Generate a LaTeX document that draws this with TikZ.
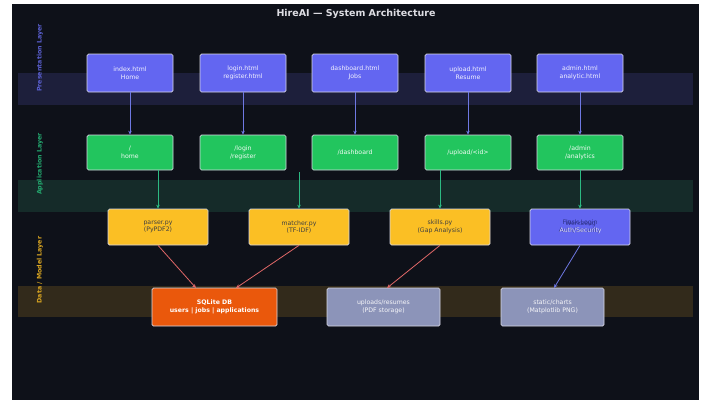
\documentclass[tikz,border=0pt]{standalone}
\usepackage{fontspec}
\setmainfont{DejaVu Sans}
\usetikzlibrary{arrows.meta}
\definecolor{bgdark}{HTML}{0E1119}
\definecolor{bandP}{HTML}{1D1F3B}
\definecolor{bandA}{HTML}{152B29}
\definecolor{bandD}{HTML}{322A1B}
\definecolor{cPurple}{HTML}{6366F1}
\definecolor{cGreen}{HTML}{22C55E}
\definecolor{cYellow}{HTML}{FBBF24}
\definecolor{cOrange}{HTML}{EA580C}
\definecolor{cSlate}{HTML}{8C94B9}
\definecolor{edgeLight}{HTML}{D8D8E4}
\definecolor{arP}{HTML}{6E78E2}
\definecolor{arG}{HTML}{2CB982}
\definecolor{arR}{HTML}{E06868}
\definecolor{lblP}{HTML}{5A5FD0}
\definecolor{lblA}{HTML}{23A86E}
\definecolor{lblD}{HTML}{D9A521}
\definecolor{titleC}{HTML}{DDDDE3}
\definecolor{navyTxt}{HTML}{30348C}
\tikzset{
  x=1pt, y=-1pt,
  box/.style={draw=edgeLight, line width=0.7pt, rounded corners=1.5pt, align=center,
    font=\fontsize{6.2}{7.6}\selectfont, inner sep=0pt},
  pres/.style={box, fill=cPurple, text=white!92!cPurple, minimum width=86pt, minimum height=38pt},
  app/.style={box, fill=cGreen, text=white!94!cGreen, minimum width=86pt, minimum height=35pt},
  model/.style={box, fill=cYellow, text=black!75, minimum width=100pt, minimum height=36pt},
  store/.style={box, fill=cSlate, text=white!92!cSlate, minimum width=113pt, minimum height=38pt},
  layerlbl/.style={rotate=90, font=\fontsize{6.3}{7}\selectfont\bfseries},
  flowP/.style={draw=arP, line width=0.8pt, -{Stealth[length=4pt,width=3.5pt]}},
  flowG/.style={draw=arG, line width=0.8pt, -{Stealth[length=4pt,width=3.5pt]}},
  flowR/.style={draw=arR, line width=0.8pt, -{Stealth[length=4pt,width=3.5pt]}},
}
\begin{document}
\begin{tikzpicture}
\useasboundingbox (0,0) rectangle (702,400);
\fill[white] (0,0) rectangle (702,400);
\fill[bgdark] (12,4) rectangle (699,400);
% layer bands
\fill[bandP] (18,73) rectangle (693,105);
\fill[bandA] (18,180) rectangle (693,212);
\fill[bandD] (18,286) rectangle (693,317);
% title and layer labels
\node[font=\fontsize{9.5}{11}\selectfont\bfseries, text=titleC] (title) at (356,14) {HireAI — System Architecture};
\node[layerlbl, text=lblP] (lp) at (40,58) {Presentation Layer};
\node[layerlbl, text=lblA] (la) at (40,164) {Application Layer};
\node[layerlbl, text=lblD] (ld) at (40,270) {Data / Model Layer};
% presentation row
\node[pres] (p1) at (130,73) {index.html\\Home};
\node[pres] (p2) at (243,73) {login.html\\register.html};
\node[pres] (p3) at (355,73) {dashboard.html\\Jobs};
\node[pres] (p4) at (468,73) {upload.html\\Resume};
\node[pres] (p5) at (580,73) {admin.html\\analytic.html};
% application row
\node[app] (a1) at (130,152.5) {/\\home};
\node[app] (a2) at (243,152.5) {/login\\/register};
\node[app] (a3) at (355,152.5) {/dashboard};
\node[app] (a4) at (468,152.5) {/upload/<id>};
\node[app] (a5) at (580,152.5) {/admin\\/analytics};
% model row
\node[model] (m1) at (158,227) {parser.py\\(PyPDF2)};
\node[model] (m2) at (299,227) {matcher.py\\(TF-IDF)};
\node[model] (m3) at (440,227) {skills.py\\(Gap Analysis)};
% auth box: two labels printed over each other
\node[model, fill=cPurple, text=navyTxt] (m4) at (580,227) {Flask-Login\\Auth/Security};
\node[font=\fontsize{6.2}{7.6}\selectfont, align=center, inner sep=0pt] (m4b) at ([xshift=0.6pt,yshift=-0.4pt]m4.center)
  {\textcolor{navyTxt}{Werkzeug}\\\textcolor{white!80!cPurple}{Auth/Security}};
% storage row
\node[store, fill=cOrange, text=white, font=\fontsize{6.2}{7.6}\selectfont\bfseries, minimum width=125pt] (d1) at (214.5,307) {SQLite DB\\users | jobs | applications};
\node[store] (d2) at (383.5,307) {uploads/resumes\\(PDF storage)};
\node[store, minimum width=103pt] (d3) at (552.5,307) {static/charts\\(Matplotlib PNG)};
% presentation to application
\foreach \i in {1,...,5} {\draw[flowP] (p\i.south) -- (a\i.north);}
% application to model layer
\coordinate (g1) at (158,170);
\coordinate (g2) at (299,172);
\coordinate (g3) at (440,170);
\coordinate (g4) at (580,170);
\draw[flowG] (g1) -- (m1.north);
\draw[flowG] (g2) -- (m2.north);
\draw[flowG] (g3) -- (m3.north);
\draw[flowG] (g4) -- (m4.north);
% model layer to storage
\coordinate (t1) at (196,288);
\coordinate (t2) at (236,288);
\coordinate (t3) at (387,288);
\coordinate (t4) at (554,288);
\draw[flowR] (m1.south) -- (t1);
\draw[flowR] (m2.south) -- (t2);
\draw[flowR] (m3.south) -- (t3);
\draw[flowP] (m4.south) -- (t4);
\end{tikzpicture}
\end{document}
